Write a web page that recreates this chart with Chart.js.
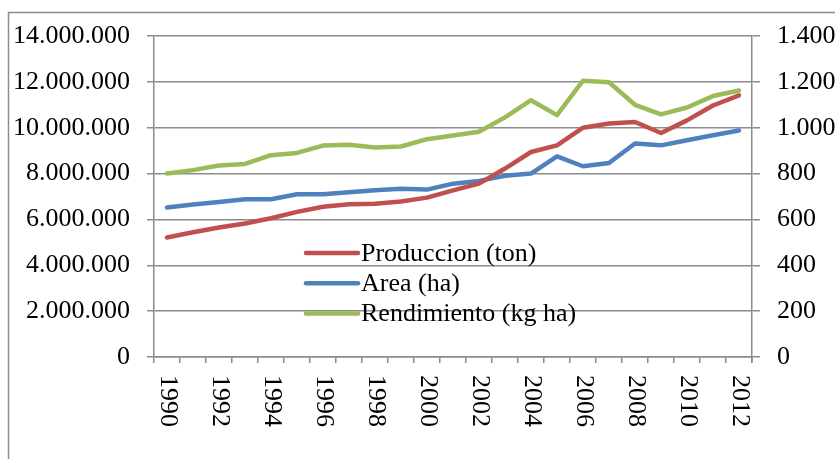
<!DOCTYPE html>
<html lang="es">
<head>
    <meta charset="UTF-8">
    <title>Produccion, area y rendimiento 1990-2012</title>
    <script src="https://cdn.jsdelivr.net/npm/chart.js"></script>
    <style>
        body {
            margin: 0;
            background-color: #fff;
        }
        canvas {
            display: block;
        }
    </style>
</head>
<body>
    <canvas id="prodChart" width="835" height="459"></canvas>

    <script>
        const years = ['1990', '1991', '1992', '1993', '1994', '1995', '1996', '1997', '1998', '1999', '2000',
            '2001', '2002', '2003', '2004', '2005', '2006', '2007', '2008', '2009', '2010', '2011', '2012'];

        // toneladas
        const produccion = [5210000, 5440000, 5650000, 5820000, 6050000, 6330000, 6550000, 6660000, 6680000,
            6780000, 6950000, 7270000, 7560000, 8220000, 8940000, 9230000, 10000000, 10180000, 10250000,
            9770000, 10320000, 10970000, 11410000];

        // hectareas
        const area = [6520000, 6650000, 6760000, 6880000, 6880000, 7100000, 7100000, 7190000, 7270000,
            7340000, 7300000, 7560000, 7680000, 7900000, 8000000, 8750000, 8320000, 8460000, 9310000,
            9230000, 9450000, 9670000, 9880000];

        // kg por ha (eje derecho)
        const rendimiento = [800, 815, 835, 842, 880, 890, 922, 926, 914, 918, 950, 966, 982, 1045, 1120,
            1055, 1205, 1198, 1100, 1058, 1088, 1138, 1162];

        const leftTicks = [0, 2000000, 4000000, 6000000, 8000000, 10000000, 12000000, 14000000];
        const rightTicks = [0, 200, 400, 600, 800, 1000, 1200, 1400];

        const seriesNames = ['Produccion (ton)', 'Area (ha)', 'Rendimiento (kg ha)'];
        const seriesColors = ['#c0504d', '#4f81bd', '#9bbb59'];

        const FONT = "26px 'Liberation Serif', 'Times New Roman', serif";
        const GRID = '#8c8c8c';

        function fmt(v) {
            // 14000000 -> 14.000.000
            return String(Math.round(v)).replace(/\B(?=(\d{3})+(?!\d))/g, '.');
        }

        // outer frame of the chart object
        const framePlugin = {
            id: 'frame',
            beforeDraw(chart) {
                const ctx = chart.ctx;
                ctx.save();
                ctx.fillStyle = '#fff';
                ctx.fillRect(0, 0, chart.width, chart.height);
                ctx.strokeStyle = GRID;
                ctx.lineWidth = 1.5;
                ctx.beginPath();
                ctx.moveTo(8.5, chart.height);
                ctx.lineTo(8.5, 12.5);
                ctx.lineTo(chart.width, 12.5);
                ctx.stroke();
                ctx.restore();
            }
        };

        // year labels, every second year, turned to read top to bottom
        const yearLabels = {
            id: 'yearLabels',
            afterDraw(chart) {
                const ctx = chart.ctx;
                const x = chart.scales.x;
                ctx.save();
                ctx.font = FONT;
                ctx.fillStyle = '#000';
                ctx.textAlign = 'left';
                ctx.textBaseline = 'middle';
                years.forEach((y, i) => {
                    if (i % 2 !== 0) return;
                    ctx.save();
                    ctx.translate(x.getPixelForValue(i) + 1, x.top + 18);
                    ctx.rotate(Math.PI / 2);
                    ctx.fillText(y, 0, 0);
                    ctx.restore();
                });
                // closing tick at the right end
                ctx.strokeStyle = GRID;
                ctx.lineWidth = 1.5;
                ctx.beginPath();
                ctx.moveTo(x.right, x.top);
                ctx.lineTo(x.right, x.top + 6);
                ctx.stroke();
                ctx.restore();
            }
        };

        // legend sitting inside the plot area
        const innerLegend = {
            id: 'innerLegend',
            afterDatasetsDraw(chart) {
                const ctx = chart.ctx;
                const area = chart.chartArea;
                const x0 = area.left + 152;
                const y0 = area.top + 217;
                ctx.save();
                ctx.font = FONT;
                ctx.textAlign = 'left';
                ctx.textBaseline = 'middle';
                seriesNames.forEach((name, i) => {
                    const yy = y0 + i * 30.3;
                    ctx.strokeStyle = seriesColors[i];
                    ctx.lineWidth = 4.5;
                    ctx.lineCap = 'round';
                    ctx.beginPath();
                    ctx.moveTo(x0, yy);
                    ctx.lineTo(x0 + 52, yy);
                    ctx.stroke();
                    ctx.fillStyle = '#000';
                    ctx.fillText(name, x0 + 55, yy + 1);
                });
                ctx.restore();
            }
        };

        const ctx = document.getElementById('prodChart').getContext('2d');

        const prodChart = new Chart(ctx, {
            type: 'line',
            data: {
                labels: years,
                datasets: [
                    {
                        label: seriesNames[0],
                        data: produccion,
                        borderColor: seriesColors[0],
                        yAxisID: 'y',
                        order: 1
                    },
                    {
                        label: seriesNames[1],
                        data: area,
                        borderColor: seriesColors[1],
                        yAxisID: 'y',
                        order: 2
                    },
                    {
                        label: seriesNames[2],
                        data: rendimiento,
                        borderColor: seriesColors[2],
                        yAxisID: 'y1',
                        order: 0
                    }
                ]
            },
            options: {
                responsive: false,
                animation: false,
                layout: {
                    padding: { top: 36, left: 0, right: 0, bottom: 0 }
                },
                elements: {
                    line: {
                        borderWidth: 4.5,
                        tension: 0,
                        fill: false,
                        borderJoinStyle: 'round',
                        borderCapStyle: 'round'
                    },
                    point: { radius: 0, hoverRadius: 0 }
                },
                plugins: {
                    legend: { display: false },
                    tooltip: { enabled: false }
                },
                scales: {
                    x: {
                        type: 'category',
                        offset: true,
                        afterFit(scale) { scale.height = 102; },
                        ticks: { display: false, autoSkip: false },
                        grid: {
                            offset: true,
                            drawOnChartArea: false,
                            drawTicks: true,
                            tickLength: 6,
                            color: GRID,
                            lineWidth: 1.5
                        },
                        border: { display: true, color: GRID, width: 1.5 }
                    },
                    y: {
                        position: 'left',
                        min: 0,
                        max: 14000000,
                        afterFit(scale) { scale.width = 154; },
                        afterBuildTicks(scale) {
                            scale.ticks = leftTicks.map(v => ({ value: v }));
                        },
                        ticks: {
                            color: '#000',
                            font: { family: "'Liberation Serif', 'Times New Roman', serif", size: 26 },
                            padding: 17,
                            callback: v => fmt(v)
                        },
                        grid: {
                            color: GRID,
                            lineWidth: 1.5,
                            tickLength: 7
                        },
                        border: { display: true, color: GRID, width: 1.5 }
                    },
                    y1: {
                        position: 'right',
                        min: 0,
                        max: 1400,
                        afterFit(scale) { scale.width = 83; },
                        afterBuildTicks(scale) {
                            scale.ticks = rightTicks.map(v => ({ value: v }));
                        },
                        ticks: {
                            color: '#000',
                            font: { family: "'Liberation Serif', 'Times New Roman', serif", size: 26 },
                            padding: 17,
                            callback: v => fmt(v)
                        },
                        grid: {
                            drawOnChartArea: false,
                            color: GRID,
                            lineWidth: 1.5,
                            tickLength: 8
                        },
                        border: { display: true, color: GRID, width: 1.5 }
                    }
                }
            },
            plugins: [framePlugin, yearLabels, innerLegend]
        });
    </script>
</body>
</html>
